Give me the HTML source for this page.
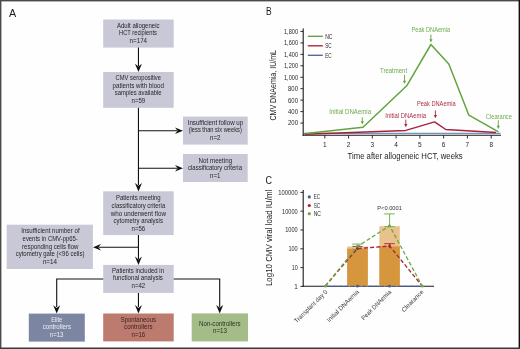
<!DOCTYPE html>
<html><head><meta charset="utf-8"><style>
html,body{margin:0;padding:0;background:#fff;}
body{width:520px;height:349px;overflow:hidden;}
svg{display:block;font-family:"Liberation Sans", sans-serif;will-change:transform;}
</style></head><body>
<svg width="520" height="349" viewBox="0 0 520 349">
<rect width="520" height="349" fill="#fefefe"/>
<text x="8.90" y="16.60" font-size="11.0" text-anchor="start" fill="#1a1a1a" textLength="7.20" lengthAdjust="spacingAndGlyphs">A</text>
<rect x="103.20" y="19.50" width="70.50" height="28.10" fill="#c9c8d7"/>
<text x="138.25" y="27.70" font-size="6.6" text-anchor="middle" fill="#262626" textLength="42.50" lengthAdjust="spacingAndGlyphs">Adult allogeneic</text>
<text x="138.00" y="35.10" font-size="6.6" text-anchor="middle" fill="#262626" textLength="38.00" lengthAdjust="spacingAndGlyphs">HCT recipients</text>
<text x="138.35" y="42.50" font-size="6.6" text-anchor="middle" fill="#262626" textLength="17.50" lengthAdjust="spacingAndGlyphs">n=174</text>
<rect x="103.20" y="72.00" width="70.50" height="35.80" fill="#c9c8d7"/>
<text x="138.25" y="80.20" font-size="6.6" text-anchor="middle" fill="#262626" textLength="45.50" lengthAdjust="spacingAndGlyphs">CMV seropositive</text>
<text x="138.30" y="87.60" font-size="6.6" text-anchor="middle" fill="#262626" textLength="51.40" lengthAdjust="spacingAndGlyphs">patients with blood</text>
<text x="138.15" y="95.10" font-size="6.6" text-anchor="middle" fill="#262626" textLength="46.70" lengthAdjust="spacingAndGlyphs">samples available</text>
<text x="138.35" y="102.50" font-size="6.6" text-anchor="middle" fill="#262626" textLength="13.70" lengthAdjust="spacingAndGlyphs">n=59</text>
<rect x="183.00" y="116.60" width="64.70" height="28.00" fill="#c9c8d7"/>
<text x="215.45" y="124.70" font-size="6.6" text-anchor="middle" fill="#262626" textLength="55.50" lengthAdjust="spacingAndGlyphs">Insufficient follow up</text>
<text x="215.25" y="132.20" font-size="6.6" text-anchor="middle" fill="#262626" textLength="53.10" lengthAdjust="spacingAndGlyphs">(less than six weeks)</text>
<text x="215.20" y="139.60" font-size="6.6" text-anchor="middle" fill="#262626" textLength="10.40" lengthAdjust="spacingAndGlyphs">n=2</text>
<rect x="183.00" y="154.00" width="64.70" height="28.00" fill="#c9c8d7"/>
<text x="215.35" y="162.85" font-size="6.6" text-anchor="middle" fill="#262626" textLength="33.50" lengthAdjust="spacingAndGlyphs">Not meeting</text>
<text x="215.00" y="170.35" font-size="6.6" text-anchor="middle" fill="#262626" textLength="54.00" lengthAdjust="spacingAndGlyphs">classificatory criteria</text>
<text x="215.20" y="177.75" font-size="6.6" text-anchor="middle" fill="#262626" textLength="10.40" lengthAdjust="spacingAndGlyphs">n=1</text>
<rect x="103.20" y="191.30" width="70.50" height="43.80" fill="#c9c8d7"/>
<text x="138.35" y="200.15" font-size="6.6" text-anchor="middle" fill="#262626" textLength="44.70" lengthAdjust="spacingAndGlyphs">Patients meeting</text>
<text x="138.40" y="207.80" font-size="6.6" text-anchor="middle" fill="#262626" textLength="53.60" lengthAdjust="spacingAndGlyphs">classificatory criteria</text>
<text x="138.30" y="215.50" font-size="6.6" text-anchor="middle" fill="#262626" textLength="55.20" lengthAdjust="spacingAndGlyphs">who underwent flow</text>
<text x="138.25" y="223.15" font-size="6.6" text-anchor="middle" fill="#262626" textLength="49.30" lengthAdjust="spacingAndGlyphs">cytometry analysis</text>
<text x="138.35" y="230.65" font-size="6.6" text-anchor="middle" fill="#262626" textLength="13.70" lengthAdjust="spacingAndGlyphs">n=56</text>
<rect x="6.70" y="224.70" width="86.20" height="44.30" fill="#c9c8d7"/>
<text x="50.40" y="233.40" font-size="6.6" text-anchor="middle" fill="#262626" textLength="58.40" lengthAdjust="spacingAndGlyphs">Insufficient number of</text>
<text x="50.20" y="241.00" font-size="6.6" text-anchor="middle" fill="#262626" textLength="55.20" lengthAdjust="spacingAndGlyphs">events in CMV-pp65-</text>
<text x="50.25" y="248.50" font-size="6.6" text-anchor="middle" fill="#262626" textLength="56.50" lengthAdjust="spacingAndGlyphs">responding cells flow</text>
<text x="50.05" y="256.20" font-size="6.6" text-anchor="middle" fill="#262626" textLength="68.70" lengthAdjust="spacingAndGlyphs">cytometry gate (&lt;96 cells)</text>
<text x="49.95" y="263.60" font-size="6.6" text-anchor="middle" fill="#262626" textLength="14.10" lengthAdjust="spacingAndGlyphs">n=14</text>
<rect x="103.20" y="264.90" width="70.50" height="28.00" fill="#c9c8d7"/>
<text x="138.05" y="272.90" font-size="6.6" text-anchor="middle" fill="#262626" textLength="51.90" lengthAdjust="spacingAndGlyphs">Patients included in</text>
<text x="137.95" y="280.30" font-size="6.6" text-anchor="middle" fill="#262626" textLength="49.90" lengthAdjust="spacingAndGlyphs">functional analysis</text>
<text x="138.35" y="287.90" font-size="6.6" text-anchor="middle" fill="#262626" textLength="13.70" lengthAdjust="spacingAndGlyphs">n=42</text>
<rect x="28.80" y="313.60" width="56.00" height="28.00" fill="#7c85a1"/>
<text x="56.75" y="321.60" font-size="6.6" text-anchor="middle" fill="#eef0f6" textLength="11.00" lengthAdjust="spacingAndGlyphs">Elite</text>
<text x="56.88" y="329.10" font-size="6.6" text-anchor="middle" fill="#eef0f6" textLength="28.25" lengthAdjust="spacingAndGlyphs">controllers</text>
<text x="56.62" y="336.60" font-size="6.6" text-anchor="middle" fill="#eef0f6" textLength="13.75" lengthAdjust="spacingAndGlyphs">n=13</text>
<rect x="103.20" y="313.50" width="70.50" height="27.90" fill="#bd7a6e"/>
<text x="138.35" y="321.70" font-size="6.6" text-anchor="middle" fill="#3a2624" textLength="35.30" lengthAdjust="spacingAndGlyphs">Spontaneous</text>
<text x="138.35" y="329.10" font-size="6.6" text-anchor="middle" fill="#3a2624" textLength="28.50" lengthAdjust="spacingAndGlyphs">controllers</text>
<text x="138.35" y="336.50" font-size="6.6" text-anchor="middle" fill="#3a2624" textLength="13.70" lengthAdjust="spacingAndGlyphs">n=16</text>
<rect x="191.70" y="313.40" width="56.30" height="28.00" fill="#a4bc88"/>
<text x="219.80" y="325.50" font-size="6.6" text-anchor="middle" fill="#2a3322" textLength="41.40" lengthAdjust="spacingAndGlyphs">Non-controllers</text>
<text x="220.00" y="333.20" font-size="6.6" text-anchor="middle" fill="#2a3322" textLength="14.00" lengthAdjust="spacingAndGlyphs">n=13</text>
<line x1="138.45" y1="47.60" x2="138.45" y2="66.00" stroke="#111" stroke-width="1.1"/>
<path d="M138.45,72.10 L134.95,63.70 L138.45,66.50 L141.95,63.70 Z" fill="#111" stroke="none" stroke-width="1"/>
<line x1="138.45" y1="107.80" x2="138.45" y2="185.00" stroke="#111" stroke-width="1.1"/>
<path d="M138.45,191.40 L134.95,183.00 L138.45,185.80 L141.95,183.00 Z" fill="#111" stroke="none" stroke-width="1"/>
<line x1="138.45" y1="130.80" x2="177.00" y2="130.80" stroke="#111" stroke-width="1.1"/>
<path d="M183.00,130.80 L175.00,127.50 L177.60,130.80 L175.00,134.10 Z" fill="#111" stroke="none" stroke-width="1"/>
<line x1="138.45" y1="168.20" x2="177.00" y2="168.20" stroke="#111" stroke-width="1.1"/>
<path d="M183.00,168.20 L175.00,164.90 L177.60,168.20 L175.00,171.50 Z" fill="#111" stroke="none" stroke-width="1"/>
<line x1="138.45" y1="235.10" x2="138.45" y2="259.00" stroke="#111" stroke-width="1.1"/>
<path d="M138.45,265.00 L134.95,256.60 L138.45,259.40 L141.95,256.60 Z" fill="#111" stroke="none" stroke-width="1"/>
<line x1="99.00" y1="247.30" x2="138.45" y2="247.30" stroke="#111" stroke-width="1.1"/>
<path d="M93.00,247.30 L101.00,244.00 L98.40,247.30 L101.00,250.60 Z" fill="#111" stroke="none" stroke-width="1"/>
<line x1="138.45" y1="292.90" x2="138.45" y2="307.00" stroke="#111" stroke-width="1.1"/>
<path d="M138.45,313.50 L134.95,305.10 L138.45,307.90 L141.95,305.10 Z" fill="#111" stroke="none" stroke-width="1"/>
<path d="M103.2,279 L56.7,279 L56.7,307" fill="none" stroke="#111" stroke-width="1.1"/>
<path d="M56.70,313.60 L53.20,305.20 L56.70,308.00 L60.20,305.20 Z" fill="#111" stroke="none" stroke-width="1"/>
<path d="M173.7,279 L219.7,279 L219.7,307" fill="none" stroke="#111" stroke-width="1.1"/>
<path d="M219.70,313.40 L216.20,305.00 L219.70,307.80 L223.20,305.00 Z" fill="#111" stroke="none" stroke-width="1"/>
<text x="265.90" y="15.20" font-size="11.0" text-anchor="start" fill="#1a1a1a" textLength="5.70" lengthAdjust="spacingAndGlyphs">B</text>
<line x1="303.20" y1="28.60" x2="303.20" y2="135.80" stroke="#1a1a1a" stroke-width="1.1"/>
<line x1="302.60" y1="135.30" x2="501.00" y2="135.30" stroke="#1a1a1a" stroke-width="1.1"/>
<line x1="300.40" y1="123.05" x2="303.20" y2="123.05" stroke="#1a1a1a" stroke-width="0.9"/>
<text x="298.00" y="125.45" font-size="6.3" text-anchor="end" fill="#2a2a2a" textLength="10.00" lengthAdjust="spacingAndGlyphs">200</text>
<line x1="300.40" y1="111.60" x2="303.20" y2="111.60" stroke="#1a1a1a" stroke-width="0.9"/>
<text x="298.00" y="114.00" font-size="6.3" text-anchor="end" fill="#2a2a2a" textLength="10.00" lengthAdjust="spacingAndGlyphs">400</text>
<line x1="300.40" y1="100.15" x2="303.20" y2="100.15" stroke="#1a1a1a" stroke-width="0.9"/>
<text x="298.00" y="102.55" font-size="6.3" text-anchor="end" fill="#2a2a2a" textLength="10.00" lengthAdjust="spacingAndGlyphs">600</text>
<line x1="300.40" y1="88.70" x2="303.20" y2="88.70" stroke="#1a1a1a" stroke-width="0.9"/>
<text x="298.00" y="91.10" font-size="6.3" text-anchor="end" fill="#2a2a2a" textLength="10.00" lengthAdjust="spacingAndGlyphs">800</text>
<line x1="300.40" y1="77.25" x2="303.20" y2="77.25" stroke="#1a1a1a" stroke-width="0.9"/>
<text x="298.00" y="79.65" font-size="6.3" text-anchor="end" fill="#2a2a2a" textLength="14.00" lengthAdjust="spacingAndGlyphs">1,000</text>
<line x1="300.40" y1="65.80" x2="303.20" y2="65.80" stroke="#1a1a1a" stroke-width="0.9"/>
<text x="298.00" y="68.20" font-size="6.3" text-anchor="end" fill="#2a2a2a" textLength="14.00" lengthAdjust="spacingAndGlyphs">1,200</text>
<line x1="300.40" y1="54.35" x2="303.20" y2="54.35" stroke="#1a1a1a" stroke-width="0.9"/>
<text x="298.00" y="56.75" font-size="6.3" text-anchor="end" fill="#2a2a2a" textLength="14.00" lengthAdjust="spacingAndGlyphs">1,400</text>
<line x1="300.40" y1="42.90" x2="303.20" y2="42.90" stroke="#1a1a1a" stroke-width="0.9"/>
<text x="298.00" y="45.30" font-size="6.3" text-anchor="end" fill="#2a2a2a" textLength="14.00" lengthAdjust="spacingAndGlyphs">1,600</text>
<line x1="300.40" y1="31.45" x2="303.20" y2="31.45" stroke="#1a1a1a" stroke-width="0.9"/>
<text x="298.00" y="33.85" font-size="6.3" text-anchor="end" fill="#2a2a2a" textLength="14.00" lengthAdjust="spacingAndGlyphs">1,800</text>
<line x1="324.80" y1="135.30" x2="324.80" y2="138.50" stroke="#1a1a1a" stroke-width="0.9"/>
<text x="324.80" y="146.90" font-size="6.5" text-anchor="middle" fill="#262626">1</text>
<line x1="348.57" y1="135.30" x2="348.57" y2="138.50" stroke="#1a1a1a" stroke-width="0.9"/>
<text x="348.57" y="146.90" font-size="6.5" text-anchor="middle" fill="#262626">2</text>
<line x1="372.34" y1="135.30" x2="372.34" y2="138.50" stroke="#1a1a1a" stroke-width="0.9"/>
<text x="372.34" y="146.90" font-size="6.5" text-anchor="middle" fill="#262626">3</text>
<line x1="396.11" y1="135.30" x2="396.11" y2="138.50" stroke="#1a1a1a" stroke-width="0.9"/>
<text x="396.11" y="146.90" font-size="6.5" text-anchor="middle" fill="#262626">4</text>
<line x1="419.88" y1="135.30" x2="419.88" y2="138.50" stroke="#1a1a1a" stroke-width="0.9"/>
<text x="419.88" y="146.90" font-size="6.5" text-anchor="middle" fill="#262626">5</text>
<line x1="443.65" y1="135.30" x2="443.65" y2="138.50" stroke="#1a1a1a" stroke-width="0.9"/>
<text x="443.65" y="146.90" font-size="6.5" text-anchor="middle" fill="#262626">6</text>
<line x1="467.42" y1="135.30" x2="467.42" y2="138.50" stroke="#1a1a1a" stroke-width="0.9"/>
<text x="467.42" y="146.90" font-size="6.5" text-anchor="middle" fill="#262626">7</text>
<line x1="491.19" y1="135.30" x2="491.19" y2="138.50" stroke="#1a1a1a" stroke-width="0.9"/>
<text x="491.19" y="146.90" font-size="6.5" text-anchor="middle" fill="#262626">8</text>
<text x="405.10" y="158.80" font-size="8.5" text-anchor="middle" fill="#1e1e1e" textLength="115.20" lengthAdjust="spacingAndGlyphs">Time after allogeneic HCT, weeks</text>
<text transform="translate(276.1,85.3) rotate(-90)" x="0" y="0" font-size="8.3" text-anchor="middle" fill="#222" textLength="70.6" lengthAdjust="spacingAndGlyphs">CMV DNAemia, IU/mL</text>
<line x1="307.80" y1="36.30" x2="322.80" y2="36.30" stroke="#62a43e" stroke-width="1.35"/>
<text x="325.20" y="38.50" font-size="6.4" text-anchor="start" fill="#2a2a2a" textLength="7.30" lengthAdjust="spacingAndGlyphs">NC</text>
<line x1="307.80" y1="45.80" x2="322.80" y2="45.80" stroke="#a8213a" stroke-width="1.35"/>
<text x="325.20" y="48.00" font-size="6.4" text-anchor="start" fill="#2a2a2a" textLength="6.40" lengthAdjust="spacingAndGlyphs">SC</text>
<line x1="307.80" y1="55.30" x2="322.80" y2="55.30" stroke="#4d6c9c" stroke-width="1.35"/>
<text x="325.20" y="57.50" font-size="6.4" text-anchor="start" fill="#2a2a2a" textLength="6.40" lengthAdjust="spacingAndGlyphs">EC</text>
<line x1="304.00" y1="133.40" x2="500.60" y2="133.40" stroke="#6f94bd" stroke-width="1.3"/>
<path d="M304.6,134.2 L405.8,130.4 L434.6,121.9 L445.8,129.5 L496,132.6" fill="none" stroke="#a8213a" stroke-width="1.5" stroke-linejoin="round"/>
<path d="M306,133.5 L363,127.3 L406.7,85.8 L430.9,44.5 L448.8,63.9 L468.9,115.2 L498.5,131.9" fill="none" stroke="#62a43e" stroke-width="1.5" stroke-linejoin="round"/>
<text x="350.15" y="113.50" font-size="6.7" text-anchor="middle" fill="#6cab4c" textLength="41.90" lengthAdjust="spacingAndGlyphs">Initial DNAemia</text>
<line x1="362.30" y1="117.30" x2="362.30" y2="122.10" stroke="#62a43e" stroke-width="0.9"/>
<path d="M362.30,124.60 L360.70,121.30 L363.90,121.30 Z" fill="#62a43e" stroke="none" stroke-width="1"/>
<text x="393.55" y="72.90" font-size="6.7" text-anchor="middle" fill="#6cab4c" textLength="27.10" lengthAdjust="spacingAndGlyphs">Treatment</text>
<line x1="404.50" y1="74.80" x2="404.50" y2="81.50" stroke="#62a43e" stroke-width="0.9"/>
<path d="M404.50,84.00 L402.90,80.70 L406.10,80.70 Z" fill="#62a43e" stroke="none" stroke-width="1"/>
<text x="430.85" y="31.80" font-size="6.7" text-anchor="middle" fill="#6cab4c" textLength="38.70" lengthAdjust="spacingAndGlyphs">Peak DNAemia</text>
<line x1="430.90" y1="34.50" x2="430.90" y2="40.00" stroke="#62a43e" stroke-width="0.9"/>
<path d="M430.90,42.50 L429.30,39.20 L432.50,39.20 Z" fill="#62a43e" stroke="none" stroke-width="1"/>
<text x="498.85" y="118.70" font-size="6.7" text-anchor="middle" fill="#6cab4c" textLength="26.10" lengthAdjust="spacingAndGlyphs">Clearance</text>
<line x1="498.30" y1="120.20" x2="498.30" y2="126.50" stroke="#62a43e" stroke-width="0.9"/>
<path d="M498.30,129.00 L496.70,125.70 L499.90,125.70 Z" fill="#62a43e" stroke="none" stroke-width="1"/>
<text x="405.75" y="117.50" font-size="6.7" text-anchor="middle" fill="#a9304a" textLength="40.80" lengthAdjust="spacingAndGlyphs">Initial DNAemia</text>
<line x1="405.80" y1="119.60" x2="405.80" y2="124.70" stroke="#a8213a" stroke-width="0.9"/>
<path d="M405.80,127.20 L404.20,123.90 L407.40,123.90 Z" fill="#a8213a" stroke="none" stroke-width="1"/>
<text x="436.30" y="106.00" font-size="6.7" text-anchor="middle" fill="#a9304a" textLength="38.80" lengthAdjust="spacingAndGlyphs">Peak DNAemia</text>
<line x1="435.40" y1="110.40" x2="435.40" y2="115.80" stroke="#a8213a" stroke-width="0.9"/>
<path d="M435.40,118.30 L433.80,115.00 L437.00,115.00 Z" fill="#a8213a" stroke="none" stroke-width="1"/>
<text x="265.40" y="184.00" font-size="11.0" text-anchor="start" fill="#1a1a1a" textLength="6.50" lengthAdjust="spacingAndGlyphs">C</text>
<line x1="303.20" y1="190.00" x2="303.20" y2="286.80" stroke="#1a1a1a" stroke-width="1.1"/>
<line x1="302.60" y1="286.30" x2="434.00" y2="286.30" stroke="#1a1a1a" stroke-width="1.1"/>
<line x1="300.40" y1="286.40" x2="303.20" y2="286.40" stroke="#1a1a1a" stroke-width="0.9"/>
<text x="297.70" y="288.80" font-size="6.3" text-anchor="end" fill="#2a2a2a">1</text>
<line x1="300.40" y1="267.60" x2="303.20" y2="267.60" stroke="#1a1a1a" stroke-width="0.9"/>
<text x="297.70" y="270.00" font-size="6.3" text-anchor="end" fill="#2a2a2a" textLength="6.00" lengthAdjust="spacingAndGlyphs">10</text>
<line x1="300.40" y1="248.80" x2="303.20" y2="248.80" stroke="#1a1a1a" stroke-width="0.9"/>
<text x="297.70" y="251.20" font-size="6.3" text-anchor="end" fill="#2a2a2a" textLength="9.30" lengthAdjust="spacingAndGlyphs">100</text>
<line x1="300.40" y1="230.00" x2="303.20" y2="230.00" stroke="#1a1a1a" stroke-width="0.9"/>
<text x="297.70" y="232.40" font-size="6.3" text-anchor="end" fill="#2a2a2a" textLength="12.50" lengthAdjust="spacingAndGlyphs">1000</text>
<line x1="300.40" y1="211.20" x2="303.20" y2="211.20" stroke="#1a1a1a" stroke-width="0.9"/>
<text x="297.70" y="213.60" font-size="6.3" text-anchor="end" fill="#2a2a2a" textLength="15.70" lengthAdjust="spacingAndGlyphs">10000</text>
<line x1="300.40" y1="192.40" x2="303.20" y2="192.40" stroke="#1a1a1a" stroke-width="0.9"/>
<text x="297.70" y="194.80" font-size="6.3" text-anchor="end" fill="#2a2a2a" textLength="19.50" lengthAdjust="spacingAndGlyphs">100000</text>
<text transform="translate(272.0,237.9) rotate(-90)" x="0" y="0" font-size="8.8" text-anchor="middle" fill="#222" textLength="96.3" lengthAdjust="spacingAndGlyphs">Log10 CMV viral load IU/ml</text>
<circle cx="309.3" cy="196.9" r="1.6" fill="#3d5d93"/>
<text x="313.70" y="199.20" font-size="6.4" text-anchor="start" fill="#2a2a2a" textLength="6.30" lengthAdjust="spacingAndGlyphs">EC</text>
<circle cx="309.3" cy="205.5" r="1.6" fill="#a8213a"/>
<text x="313.70" y="207.80" font-size="6.4" text-anchor="start" fill="#2a2a2a" textLength="6.50" lengthAdjust="spacingAndGlyphs">SC</text>
<circle cx="309.3" cy="213.7" r="1.6" fill="#6aaa48"/>
<text x="313.70" y="216.00" font-size="6.4" text-anchor="start" fill="#2a2a2a" textLength="7.30" lengthAdjust="spacingAndGlyphs">NC</text>
<rect x="347.20" y="246.50" width="20.60" height="39.80" fill="#e9c18b"/>
<rect x="347.20" y="248.80" width="20.60" height="37.50" fill="#d5963e"/>
<rect x="379.40" y="226.20" width="20.40" height="60.10" fill="#e9c18b"/>
<rect x="379.40" y="246.30" width="20.40" height="40.00" fill="#d5963e"/>
<path d="M326.8,286.4 L422.2,286.4" fill="none" stroke="#41609a" stroke-width="1.1" stroke-dasharray="4.4,1.5"/>
<path d="M325.3,286 L357.4,248.6 L389.6,246 L422.2,286" fill="none" stroke="#a8213a" stroke-width="1.3" stroke-dasharray="4,2.2"/>
<path d="M325.3,286 L357.4,246.5 L389.6,225.8 L422.2,286" fill="none" stroke="#6aaa48" stroke-width="1.3" stroke-dasharray="4,2.2"/>
<line x1="357.40" y1="244.10" x2="357.40" y2="249.30" stroke="#6aaa48" stroke-width="0.9"/>
<line x1="352.20" y1="244.10" x2="362.30" y2="244.10" stroke="#6aaa48" stroke-width="0.9"/>
<line x1="352.20" y1="249.30" x2="362.30" y2="249.30" stroke="#6aaa48" stroke-width="0.8"/>
<line x1="352.40" y1="246.40" x2="362.40" y2="246.40" stroke="#a8213a" stroke-width="0.9"/>
<line x1="389.60" y1="213.90" x2="389.60" y2="226.50" stroke="#6aaa48" stroke-width="0.9"/>
<line x1="384.20" y1="213.90" x2="394.80" y2="213.90" stroke="#6aaa48" stroke-width="0.9"/>
<line x1="384.20" y1="226.60" x2="394.80" y2="226.60" stroke="#6aaa48" stroke-width="0.8"/>
<line x1="384.20" y1="243.70" x2="394.80" y2="243.70" stroke="#a8213a" stroke-width="0.9"/>
<line x1="389.60" y1="243.70" x2="389.60" y2="247.50" stroke="#a8213a" stroke-width="0.9"/>
<circle cx="325.3" cy="286.2" r="1.4" fill="#6aaa48"/>
<circle cx="422.2" cy="286.2" r="1.4" fill="#6aaa48"/>
<circle cx="357.4" cy="246.6" r="1.4" fill="#6aaa48"/>
<circle cx="389.6" cy="225.8" r="1.4" fill="#6aaa48"/>
<circle cx="357.4" cy="248.6" r="1.4" fill="#a8213a"/>
<circle cx="389.6" cy="246.0" r="1.4" fill="#a8213a"/>
<circle cx="357.4" cy="286.2" r="1.4" fill="#3d5d93"/>
<circle cx="389.6" cy="286.2" r="1.4" fill="#3d5d93"/>
<text x="389.60" y="209.80" font-size="6.2" text-anchor="middle" fill="#333" textLength="24.60" lengthAdjust="spacingAndGlyphs">P&lt;0.0001</text>
<text transform="translate(327.70,292.40) rotate(-45)" x="0" y="0" font-size="6.3" text-anchor="end" fill="#3a3a3a" textLength="43.70" lengthAdjust="spacingAndGlyphs">Transplant day 0</text>
<text transform="translate(359.40,292.40) rotate(-45)" x="0" y="0" font-size="6.3" text-anchor="end" fill="#3a3a3a" textLength="42.50" lengthAdjust="spacingAndGlyphs">Initial DNAemia</text>
<text transform="translate(391.70,292.40) rotate(-45)" x="0" y="0" font-size="6.3" text-anchor="end" fill="#3a3a3a" textLength="39.60" lengthAdjust="spacingAndGlyphs">Peak DNAemia</text>
<text transform="translate(423.90,292.40) rotate(-45)" x="0" y="0" font-size="6.3" text-anchor="end" fill="#3a3a3a" textLength="28.30" lengthAdjust="spacingAndGlyphs">Clearance</text>
<rect x="0.00" y="0.00" width="520.00" height="1.40" fill="#4a4a4a"/>
<rect x="0.00" y="0.00" width="1.40" height="349.00" fill="#4a4a4a"/>
<rect x="518.60" y="0.00" width="1.40" height="349.00" fill="#111"/>
<rect x="0.00" y="347.50" width="520.00" height="1.50" fill="#3a3a3a"/>
</svg>
</body></html>
